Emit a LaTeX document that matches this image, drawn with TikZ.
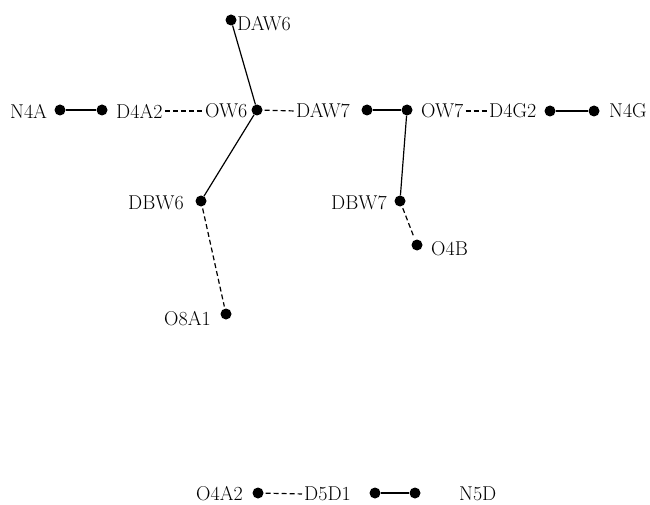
\documentclass[tikz,border=0pt]{standalone}
\begin{document}
\begin{tikzpicture}[x=1pt,y=-1pt,
  atom/.style={circle,fill=black,inner sep=0pt,minimum size=11pt},
  lbl/.style={inner sep=0pt,anchor=west,font=\fontsize{20}{22}\selectfont},
  hb/.style={dash pattern=on 5pt off 3pt,line width=1.2pt,shorten <=2pt,shorten >=2pt},
  bond/.style={line width=1.2pt}]
\useasboundingbox (0,0) rectangle (650,505);
% atoms
\node[atom] (daw6) at (231,20) {};
\node[atom] (n4a) at (60,110) {};
\node[atom] (d4a2) at (102,110) {};
\node[atom] (ow6) at (257,110) {};
\node[atom] (daw7) at (367,110) {};
\node[atom] (ow7) at (407,110) {};
\node[atom] (d4g2) at (550,111) {};
\node[atom] (n4g) at (594,111) {};
\node[atom] (dbw6) at (201,201) {};
\node[atom] (o8a1) at (226,314) {};
\node[atom] (dbw7) at (400,201) {};
\node[atom] (o4b) at (417,245) {};
\node[atom] (o4a2) at (258,493) {};
\node[atom] (d5d1) at (375,493) {};
\node[atom] (n5d) at (415,493) {};
% labels
\node[lbl] (ldaw6) at (237,24) {DAW6};
\node[lbl] (ln4a) at (10,111) {N4A};
\node[lbl] (ld4a2) at (116,111) {D4A2};
\node[lbl] (low6) at (205,111) {OW6};
\node[lbl] (ldaw7) at (296,111) {DAW7};
\node[lbl] (low7) at (421,111) {OW7};
\node[lbl] (ld4g2) at (489,111) {D4G2};
\node[lbl] (ln4g) at (609,111) {N4G};
\node[lbl] (ldbw6) at (128,203) {DBW6};
\node[lbl] (ldbw7) at (331,203) {DBW7};
\node[lbl] (lo4b) at (431,249) {O4B};
\node[lbl] (lo8a1) at (164,319) {O8A1};
\node[lbl] (lo4a2) at (196,494) {O4A2};
\node[lbl] (ld5d1) at (304,494) {D5D1};
\node[lbl] (ln5d) at (459,494) {N5D};
% bonds
\draw[bond] (daw6) -- (ow6);
\draw[bond] (ow6) -- (dbw6);
\draw[bond] (n4a) -- (d4a2);
\draw[bond] (daw7) -- (ow7);
\draw[bond] (ow7) -- (dbw7);
\draw[bond] (d4g2) -- (n4g);
\draw[bond] (d5d1) -- (n5d);
% hydrogen bonds
\draw[hb] (ld4a2.east) -- (low6.west);
\draw[hb] (ow6) -- (ldaw7.west);
\draw[hb] (low7.east) -- (ld4g2.west);
\draw[hb] (dbw6) -- (o8a1);
\draw[hb] (dbw7) -- (o4b);
\draw[hb] (o4a2) -- (ld5d1.west);
\end{tikzpicture}
\end{document}
